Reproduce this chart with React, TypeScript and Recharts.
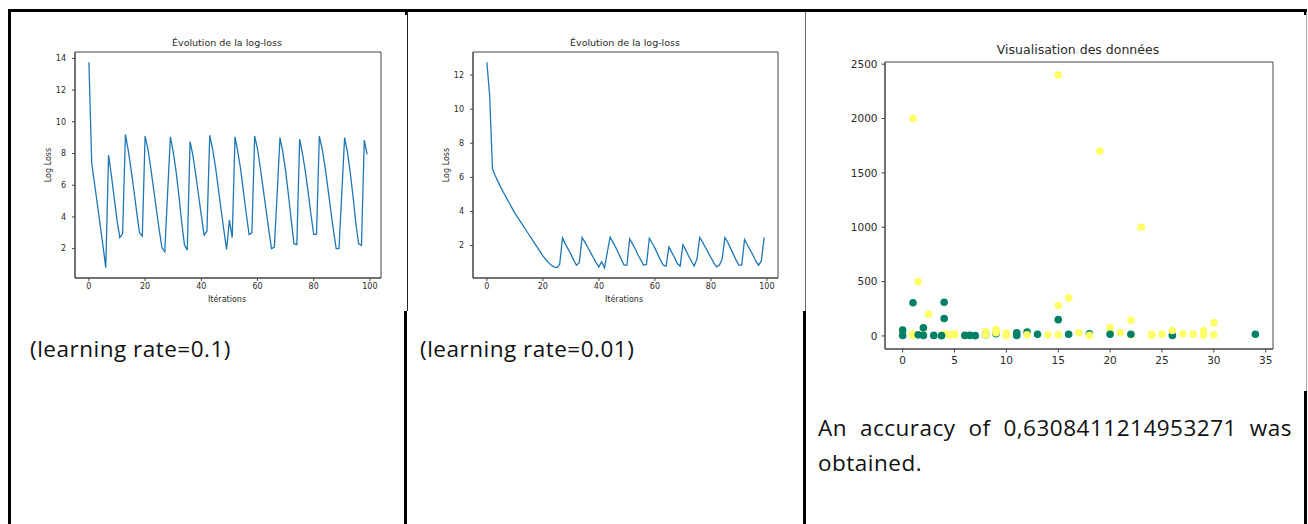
import { CartesianGrid, Line, LineChart, Scatter, ScatterChart, XAxis, YAxis } from "recharts";

// log-loss par itération, learning rate = 0.1
const lossLr01 = [
  13.75, 7.4, 6.1, 4.8, 3.5, 2.2, 0.8, 7.9, 6.6, 5.2,
  3.8, 2.7, 2.95, 9.2, 8.2, 7.0, 5.7, 4.3, 3.0, 2.8,
  9.1, 8.3, 7.1, 5.8, 4.5, 3.2, 2.05, 1.8, 5.5, 9.05,
  8.1, 6.9, 5.4, 3.7, 2.25, 1.9, 8.75, 7.9, 6.7, 5.4,
  4.1, 2.85, 3.1, 9.15, 8.3, 7.2, 5.9, 4.5, 3.2, 1.95,
  3.8, 2.7, 9.05, 8.1, 7.0, 5.6, 4.2, 2.9, 3.0, 9.1,
  8.3, 7.1, 5.8, 4.5, 3.2, 2.0, 2.1, 5.5, 9.0, 8.1,
  6.9, 5.4, 3.8, 2.3, 2.25, 8.9, 8.0, 6.9, 5.6, 4.2,
  2.9, 2.9, 9.1, 8.3, 7.2, 5.9, 4.5, 3.2, 2.0, 2.0,
  5.5, 9.0, 8.1, 6.8, 5.3, 3.6, 2.3, 2.2, 8.85, 7.95,
];

// log-loss par itération, learning rate = 0.01
const lossLr001 = [
  12.75, 10.8, 6.5, 6.1, 5.75, 5.4, 5.1, 4.8, 4.5, 4.2,
  3.9, 3.65, 3.4, 3.15, 2.9, 2.65, 2.4, 2.15, 1.9, 1.65,
  1.4, 1.2, 1.0, 0.85, 0.75, 0.7, 0.9, 2.45, 2.1, 1.8,
  1.5, 1.15, 0.85, 1.0, 2.47, 2.2, 1.9, 1.6, 1.3, 1.0,
  0.75, 1.05, 0.7, 1.6, 2.5, 2.2, 1.9, 1.55, 1.2, 0.85,
  0.85, 2.4, 2.1, 1.8, 1.45, 1.15, 0.85, 0.9, 2.43, 2.15,
  1.85, 1.5, 1.15, 0.85, 0.8, 1.92, 1.6, 1.3, 0.95, 0.8,
  2.05, 1.75, 1.4, 1.1, 0.8, 1.2, 2.48, 2.2, 1.9, 1.6,
  1.3, 1.0, 0.75, 0.85, 1.2, 2.48, 2.2, 1.85, 1.5, 1.15,
  0.85, 0.85, 2.35, 2.05, 1.75, 1.45, 1.1, 0.85, 1.1, 2.48,
];

const iterTicks = [0, 20, 40, 60, 80, 100];
const lossTicks01 = [2, 4, 6, 8, 10, 12, 14];
const lossTicks001 = [2, 4, 6, 8, 10, 12];

// nuage de points (dessinés dans cet ordre)
const pointX = [
  0, 0, 1, 1, 2, 4, 4.5, 5, 5, 6, 8, 9, 10, 10, 20, 20, 24, 24, 25, 29, 30, 14, 17, 21, 27, 28, 29, 22,
  0, 0, 1, 1.5, 2, 2, 3, 3.75, 4, 4, 6, 6.5, 7, 8, 9, 11, 11, 12, 13, 15, 16, 18, 20, 22, 26, 34,
  8, 9, 12, 15, 18, 26,
  1, 15, 19, 23, 1.5, 2.5, 15, 16, 22, 30,
];
const pointY = [
  30, 10, 20, 5, 10, 20, 10, 10, 20, 5, 40, 60, 25, 5, 75, 30, 15, 5, 15, 50, 10, 10, 30, 30, 20, 15, 8, 10,
  55, 5, 305, 10, 75, 5, 5, 3, 310, 160, 5, 5, 3, 10, 20, 30, 5, 35, 15, 150, 15, 20, 15, 15, 5, 15,
  10, 30, 10, 10, 5, 50,
  2000, 2400, 1700, 1000, 500, 200, 280, 350, 145, 120,
];
const pointClass = [
  1, 1, 1, 1, 1, 1, 1, 1, 1, 1, 1, 1, 1, 1, 1, 1, 1, 1, 1, 1, 1, 1, 1, 1, 1, 1, 1, 1,
  0, 0, 0, 0, 0, 0, 0, 0, 0, 0, 0, 0, 0, 0, 0, 0, 0, 0, 0, 0, 0, 0, 0, 0, 0, 0,
  1, 1, 1, 1, 1, 1,
  1, 1, 1, 1, 1, 1, 1, 1, 1, 1,
];
const classColors = ["#008066", "#ffff66"];
const scatterXTicks = [0, 5, 10, 15, 20, 25, 30, 35];
const scatterYTicks = [0, 500, 1000, 1500, 2000, 2500];

const mpl = "'DejaVu Sans', sans-serif";
const spine = "#444";
const ink = "#2a2a2a";

// cadre complet autour de la zone de tracé, à la matplotlib
const frameH = ({ offset }: any) => [offset.top, offset.top + offset.height];
const frameV = ({ offset }: any) => [offset.left, offset.left + offset.width];

function Txt({ x, y, size, children, rotate, font = mpl, color = ink }: any) {
  return (
    <div
      style={{
        position: "absolute",
        left: x,
        top: y,
        transform: `translate(-50%, -50%)${rotate ? ` rotate(${rotate}deg)` : ""}`,
        fontFamily: font,
        fontSize: size,
        color,
        whiteSpace: "nowrap",
        lineHeight: 1,
      }}
    >
      {children}
    </div>
  );
}

function Bar({ x, y, w, h, c = "#000" }: any) {
  return <div style={{ position: "absolute", left: x, top: y, width: w, height: h, background: c }} />;
}

function LossChart({ values, yDomain, yTicks, width, height, yWidth, right }: any) {
  const rows = values.map((v: number, i: number) => ({ it: i, loss: v }));
  const tick = { fontSize: 8, fontFamily: mpl, fill: ink };
  return (
    <LineChart width={width} height={height} data={rows} margin={{ top: 40, right, bottom: 0, left: 0 }}>
      <CartesianGrid stroke={spine} horizontalCoordinatesGenerator={frameH} verticalCoordinatesGenerator={frameV} />
      <XAxis
        dataKey="it"
        type="number"
        domain={[-4.95, 103.95]}
        ticks={iterTicks}
        allowDataOverflow
        height={32}
        tick={tick}
        tickSize={3}
        tickMargin={2}
        interval={0}
        stroke={spine}
      />
      <YAxis
        type="number"
        domain={yDomain}
        ticks={yTicks}
        allowDataOverflow
        width={yWidth}
        tick={tick}
        tickSize={3}
        tickMargin={6}
        interval={0}
        stroke={spine}
      />
      <Line dataKey="loss" stroke="#1f77b4" strokeWidth={1.3} dot={false} isAnimationActive={false} />
    </LineChart>
  );
}

function DataScatter() {
  const pts = pointX.map((x, i) => ({ x, y: pointY[i], c: pointClass[i] }));
  const tick = { fontSize: 10.5, fontFamily: mpl, fill: ink };
  return (
    <ScatterChart width={500} height={378} margin={{ top: 50, right: 33, bottom: 0, left: 0 }}>
      <CartesianGrid stroke={spine} horizontalCoordinatesGenerator={frameH} verticalCoordinatesGenerator={frameV} />
      <XAxis
        dataKey="x"
        type="number"
        domain={[-1.7, 35.7]}
        ticks={scatterXTicks}
        allowDataOverflow
        height={41}
        tick={tick}
        tickSize={3.5}
        tickMargin={4}
        interval={0}
        stroke={spine}
      />
      <YAxis
        dataKey="y"
        type="number"
        domain={[-120, 2520]}
        ticks={scatterYTicks}
        allowDataOverflow
        width={79}
        tick={tick}
        tickSize={3.5}
        tickMargin={4}
        interval={0}
        stroke={spine}
      />
      <Scatter
        data={pts}
        isAnimationActive={false}
        shape={(p: any) => <circle cx={p.cx} cy={p.cy} r={3.8} fill={classColors[p.payload.c]} />}
      />
    </ScatterChart>
  );
}

const caption = { fontFamily: "'Open Sans', sans-serif", fontSize: 22.5, letterSpacing: 0.5, color: "#111" };

export default function App() {
  return (
    <div style={{ position: "absolute", left: 0, top: 0, width: 1308, height: 524, background: "#fff", overflow: "hidden" }}>
      <div style={{ position: "absolute", left: 11, top: 12 }}>
        <LossChart values={lossLr01} yDomain={[0.15, 14.4]} yTicks={lossTicks01} width={394} height={298} yWidth={64} right={24} />
      </div>
      <div style={{ position: "absolute", left: 408, top: 12 }}>
        <LossChart values={lossLr001} yDomain={[0.1, 13.35]} yTicks={lossTicks001} width={396} height={298} yWidth={65} right={26} />
      </div>
      <div style={{ position: "absolute", left: 806, top: 12 }}>
        <DataScatter />
      </div>

      <Txt x={227} y={43} size={9.5}>Évolution de la log-loss</Txt>
      <Txt x={227} y={300} size={8}>Itérations</Txt>
      <Txt x={49} y={165} size={8} rotate={-90}>Log Loss</Txt>
      <Txt x={625} y={43} size={9.5}>Évolution de la log-loss</Txt>
      <Txt x={624} y={300} size={8}>Itérations</Txt>
      <Txt x={447} y={165} size={8} rotate={-90}>Log Loss</Txt>
      <Txt x={1078} y={50} size={12.5}>Visualisation des données</Txt>

      {/* table borders */}
      <Bar x={8} y={9} w={1299} h={3} />
      <Bar x={8} y={9} w={3} h={515} />
      <Bar x={405} y={12} w={2} h={3} />
      <Bar x={407} y={12} w={1} h={299} c="#222" />
      <Bar x={404} y={311} w={3} h={213} />
      <Bar x={805} y={12} w={1} h={299} c="#666" />
      <Bar x={803} y={311} w={3} h={213} />
      <Bar x={1304} y={12} w={3} h={3} />
      <Bar x={1306} y={12} w={1} h={379} c="#aaa" />
      <Bar x={1304} y={391} w={3} h={133} />

      <div style={{ ...caption, position: "absolute", left: 30, top: 348, transform: "translateY(-50%)", lineHeight: 1.2, whiteSpace: "nowrap" }}>
        (learning rate=0.1)
      </div>
      <div style={{ ...caption, position: "absolute", left: 420, top: 348, transform: "translateY(-50%)", lineHeight: 1.2, whiteSpace: "nowrap" }}>
        (learning rate=0.01)
      </div>
      <div style={{ ...caption, position: "absolute", left: 818, top: 410, width: 474, lineHeight: "35px", textAlign: "justify" }}>
        An accuracy of 0,6308411214953271 was obtained.
      </div>
    </div>
  );
}
